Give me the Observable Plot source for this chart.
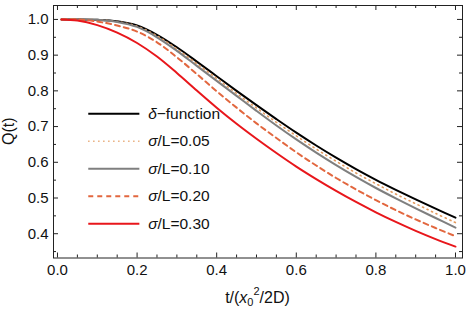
<!DOCTYPE html>
<html><head><meta charset="utf-8">
<script src="https://cdn.jsdelivr.net/npm/d3@7"></script>
<script src="https://cdn.jsdelivr.net/npm/@observablehq/plot@0.6"></script>
<style>body{margin:0;background:#fff} svg{display:block}</style>
</head><body><div id="c"></div>
<script>
// time grid (t / (x0^2/2D))
const tVals = [0.01,0.05,0.10,0.15,0.20,0.25,0.30,0.35,0.40,0.45,0.50,0.55,0.60,0.65,0.70,0.75,0.80,0.85,0.90,0.95,1.00];
// series values Q(t)
const qDelta = [1.000,1.000,0.999,0.995,0.983,0.957,0.922,0.882,0.841,0.800,0.760,0.721,0.683,0.647,0.613,0.581,0.551,0.523,0.496,0.470,0.445];
const q005   = [1.000,1.000,0.999,0.994,0.981,0.954,0.917,0.876,0.835,0.793,0.752,0.712,0.674,0.637,0.603,0.570,0.540,0.511,0.484,0.457,0.431];
const q010   = [1.000,1.000,0.999,0.993,0.979,0.950,0.912,0.870,0.828,0.786,0.744,0.703,0.664,0.627,0.592,0.559,0.528,0.499,0.471,0.444,0.417];
const q020   = [1.000,1.000,0.994,0.983,0.966,0.936,0.894,0.847,0.799,0.753,0.709,0.668,0.628,0.591,0.556,0.524,0.494,0.466,0.440,0.416,0.393];
const q030   = [1.000,0.997,0.984,0.963,0.934,0.896,0.850,0.801,0.753,0.708,0.666,0.626,0.588,0.553,0.520,0.489,0.460,0.433,0.408,0.385,0.364];
// legend labels
const legendNames = ["function","/L=0.05","/L=0.10","/L=0.20","/L=0.30"];
const legendSymbols = ["δ","σ","σ","σ","σ"];
// tick labels
const xMajor = [0,0.2,0.4,0.6,0.8,1.0];
const xMinor = [0.05,0.1,0.15,0.25,0.3,0.35,0.45,0.5,0.55,0.65,0.7,0.75,0.85,0.9,0.95];
const yMajor = [0.4,0.5,0.6,0.7,0.8,0.9,1.0];
const yMinor = [0.35,0.45,0.55,0.65,0.75,0.85,0.95];

const seriesVals = [qDelta,q005,q010,q020,q030];
const styles = [
  {stroke:"#000000", strokeWidth:2},
  {stroke:"#e39a5e", strokeWidth:1.6, strokeDasharray:"1.2,3.8"},
  {stroke:"#7f7f7f", strokeWidth:2},
  {stroke:"#e2673f", strokeWidth:2, strokeDasharray:"5,4"},
  {stroke:"#e8161b", strokeWidth:2}
];

const W = 468, H = 312;
const mL = 53, mR = 6, mT = 5, mB = 54.5;
const xDom = [-0.010, 1.0176], yDom = [0.332, 1.039];
const iw = W - mL - mR, ih = H - mT - mB;
const pxX = (xDom[1]-xDom[0])/iw, pxY = (yDom[1]-yDom[0])/ih;
const ff = "'Liberation Sans', Arial, sans-serif";

const marks = [];
seriesVals.forEach((vals, k) => {
  const data = tVals.map((t,i)=>({t, q: vals[i]}));
  marks.push(Plot.line(data, {x:"t", y:"q", curve:"catmull-rom", ...styles[k]}));
});
const legX1 = 0.0786, legX2 = 0.207, legY0 = 0.736, legStep = 0.077;
legendNames.forEach((n,k) => {
  marks.push(Plot.ruleY([legY0 - k*legStep], {x1: legX1, x2: legX2, ...styles[k]}));
});
const tk = (arr, len) => [
  Plot.ruleX(arr, {x: d=>d, y1: yDom[0], y2: yDom[0] + len*pxY, stroke:"#222"}),
  Plot.ruleX(arr, {x: d=>d, y1: yDom[1], y2: yDom[1] - len*pxY, stroke:"#222"})
];
const tky = (arr, len) => [
  Plot.ruleY(arr, {y: d=>d, x1: xDom[0], x2: xDom[0] + len*pxX, stroke:"#222"}),
  Plot.ruleY(arr, {y: d=>d, x1: xDom[1], x2: xDom[1] - len*pxX, stroke:"#222"})
];
marks.push(...tk(xMajor,5), ...tk(xMinor,3), ...tky(yMajor,5), ...tky(yMinor,3));
marks.push(Plot.axisX(xMajor, {tickSize:0, tickPadding:6, tickFormat: d3.format(".1f"), label:null, fill:"#111"}));
marks.push(Plot.axisY(yMajor, {tickSize:0, tickPadding:5, tickFormat: d3.format(".1f"), label:null, fill:"#111"}));
marks.push(Plot.frame({stroke:"#222", strokeWidth:1}));

const plot = Plot.plot({
  width: W, height: H,
  marginLeft: mL, marginRight: mR, marginTop: mT, marginBottom: mB,
  x: {domain: xDom},
  y: {domain: yDom},
  style: {fontFamily: ff, fontSize: "15px", background:"#fff", overflow:"visible"},
  marks
});
document.getElementById("c").appendChild(plot);

const sx = plot.scale("x"), sy = plot.scale("y");
const svg = d3.select(plot);
legendNames.forEach((n,k) => {
  const t = svg.append("text")
    .attr("x", sx.apply(0.229)).attr("y", sy.apply(legY0 - k*legStep))
    .attr("dy", "0.36em").attr("text-anchor","start")
    .attr("font-family", ff).attr("font-size", 15.5).attr("fill", "#111");
  t.append("tspan").attr("font-style","italic").text(legendSymbols[k]);
  t.append("tspan").text(k === 0 ? "\u2212" + n : n);
});
const xl = svg.append("text").attr("x", (mL + W - mR)/2).attr("y", 303)
  .attr("text-anchor","middle").attr("font-family", ff).attr("font-size", 16).attr("fill","#111");
xl.append("tspan").text("t/(");
xl.append("tspan").attr("font-style","italic").text("x");
xl.append("tspan").attr("font-size", 11).attr("dy", 3).text("0");
xl.append("tspan").attr("font-size", 11).attr("dy", -11).text("2");
xl.append("tspan").attr("dy", 8).text("/2D)");
svg.append("text").attr("transform", `translate(14,${(mT + H - mB)/2}) rotate(-90)`)
  .attr("text-anchor","middle").attr("font-family", ff).attr("font-size", 16).attr("fill","#111")
  .text("Q(t)");
</script></body></html>
